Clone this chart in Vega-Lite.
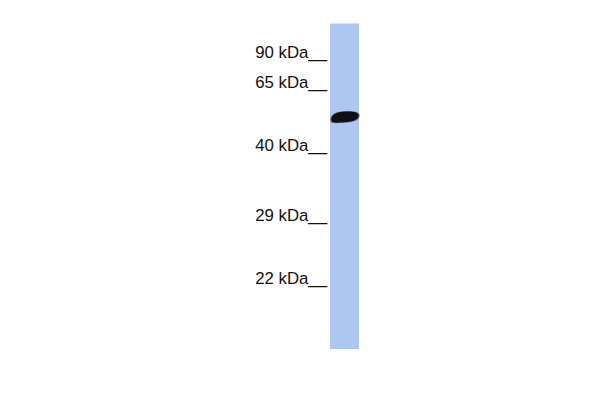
{
  "$schema": "https://vega.github.io/schema/vega-lite/v6.json",
  "autosize": {"type": "fit", "contains": "padding"},
  "width": 600,
  "height": 400,
  "padding": 0,
  "background": "white",
  "config": {"view": {"stroke": null}},
  "datasets": {
    "lane": [{"left": 330, "right": 359, "top": 23.5, "bottom": 349}],
    "band": [{"lanex": 345, "migration": 117}],
    "markers": [
      {"label": "90 kDa__", "migration": 57.5},
      {"label": "65 kDa__", "migration": 87.5},
      {"label": "40 kDa__", "migration": 150.5},
      {"label": "29 kDa__", "migration": 221},
      {"label": "22 kDa__", "migration": 283.5}
    ]
  },
  "layer": [
    {
      "data": {"name": "lane"},
      "mark": {"type": "rect", "color": "#adc7f1"},
      "encoding": {
        "x": {"field": "left", "type": "quantitative", "scale": {"domain": [0, 600], "nice": false, "zero": false}, "axis": null},
        "x2": {"field": "right"},
        "y": {"field": "top", "type": "quantitative", "scale": {"domain": [0, 400], "reverse": true, "nice": false, "zero": false}, "axis": null},
        "y2": {"field": "bottom"}
      }
    },
    {
      "data": {"name": "band"},
      "mark": {
        "type": "point",
        "filled": true,
        "color": "#2a2e40",
        "opacity": 0.4,
        "size": 900,
        "shape": "M -1 0.22 C -1 -0.2 -0.6 -0.38 0 -0.4 C 0.6 -0.42 1 -0.36 1 -0.12 C 1 0.2 0.6 0.36 0 0.38 C -0.6 0.4 -1 0.5 -1 0.22 Z"
      },
      "encoding": {
        "x": {"field": "lanex", "type": "quantitative"},
        "y": {"field": "migration", "type": "quantitative"}
      }
    },
    {
      "data": {"name": "band"},
      "mark": {
        "type": "point",
        "filled": true,
        "color": "#101014",
        "opacity": 1,
        "size": 760,
        "shape": "M -1 0.22 C -1 -0.2 -0.6 -0.38 0 -0.4 C 0.6 -0.42 1 -0.36 1 -0.12 C 1 0.2 0.6 0.36 0 0.38 C -0.6 0.4 -1 0.5 -1 0.22 Z"
      },
      "encoding": {
        "x": {"field": "lanex", "type": "quantitative"},
        "y": {"field": "migration", "type": "quantitative"}
      }
    },
    {
      "data": {"name": "markers"},
      "mark": {"type": "text", "align": "right", "baseline": "alphabetic", "font": "Liberation Sans", "fontSize": 16.8, "color": "#111111"},
      "encoding": {
        "x": {"datum": 327, "type": "quantitative"},
        "y": {"field": "migration", "type": "quantitative"},
        "text": {"field": "label"}
      }
    }
  ]
}
